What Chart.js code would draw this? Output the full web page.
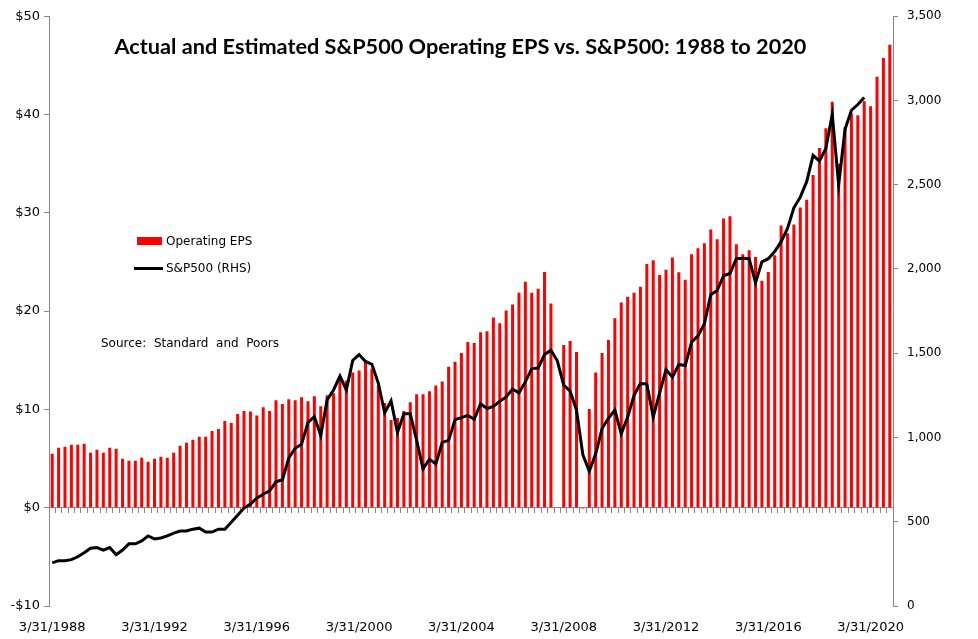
<!DOCTYPE html>
<html>
<head>
<meta charset="utf-8">
<script src="https://cdn.jsdelivr.net/npm/chart.js@4/dist/chart.umd.min.js"></script>
<style>
    body { margin: 0; background: #fff; }
    #wrap { position: relative; width: 978px; height: 639px; }
    #Chart { position: absolute; left: 0; top: 0; }
    .txt { position: absolute; font-family: "DejaVu Sans", sans-serif; font-size: 12px; color: #000; white-space: pre; line-height: 14px; }
    #title { position: absolute; left: 0; width: 921px; top: 32px; text-align: center; font-family: Lato, "Open Sans", sans-serif; font-weight: bold; font-size: 21.7px; line-height: 28px; color: #000; }
    .box { position: absolute; left: 137px; top: 237px; width: 25px; height: 8px; background: #ff0000; }
    .ln { position: absolute; left: 134px; top: 267px; width: 29px; height: 3px; background: #000; }
</style>
</head>
<body>
<div id="wrap">
    <canvas id="Chart" width="978" height="639"></canvas>
    <div id="title">Actual and Estimated S&amp;P500 Operating EPS vs. S&amp;P500: 1988 to 2020</div>
    <div class="box"></div>
    <div class="txt" style="left:166px; top:234px;">Operating EPS</div>
    <div class="ln"></div>
    <div class="txt" style="left:166px; top:261px;">S&amp;P500 (RHS)</div>
    <div class="txt" style="left:101px; top:336px;">Source:  Standard  and  Poors</div>
</div>
<script>
// quarter ends, 1988 - 2020
const years = [1988, 1989, 1990, 1991, 1992, 1993, 1994, 1995, 1996, 1997, 1998,
    1999, 2000, 2001, 2002, 2003, 2004, 2005, 2006, 2007, 2008, 2009, 2010, 2011,
    2012, 2013, 2014, 2015, 2016, 2017, 2018, 2019, 2020];
const quarterEnds = ['3/31/', '6/30/', '9/30/', '12/31/'];

// operating EPS per quarter ($), actual + estimates
const epsValues = [
    5.49, 6.09, 6.20, 6.40, 6.40, 6.50, 5.59, 5.89, 5.59, 6.09, 5.99, 4.98,
    4.78, 4.78, 5.08, 4.68, 4.98, 5.19, 5.08, 5.59, 6.30, 6.60, 6.90, 7.21,
    7.21, 7.81, 8.01, 8.82, 8.62, 9.53, 9.83, 9.78, 9.38, 10.23, 9.83, 10.94,
    10.54, 11.04, 10.94, 11.24, 10.84, 11.34, 10.33, 11.44, 11.64, 13.04, 12.94, 13.75,
    13.95, 14.85, 14.15, 12.40, 10.64, 8.93, 9.13, 9.83, 10.74, 11.54, 11.54, 11.84,
    12.44, 12.84, 14.35, 14.85, 15.75, 16.86, 16.76, 17.86, 17.96, 19.36, 18.76, 20.07,
    20.67, 21.87, 22.98, 21.87, 22.27, 23.98, 20.77, null, 16.56, 16.96, 15.85, -0.10,
    10.03, 13.75, 15.75, 17.06, 19.26, 20.87, 21.47, 21.87, 22.47, 24.78, 25.18, 23.68,
    24.20, 25.45, 23.95, 23.20, 25.79, 26.40, 26.91, 28.31, 27.30, 29.42, 29.64, 26.80,
    25.79, 26.19, 25.50, 23.09, 23.99, 25.68, 28.71, 27.91, 28.81, 30.54, 31.33, 33.85,
    36.58, 38.60, 41.30, 35.00, 38.70, 40.10, 39.93, 41.34, 40.84, 43.85, 45.75, 47.10
];

// S&P500 index at quarter end (right axis)
const spxValues = [
    256, 269, 269, 275, 292, 316, 343, 347, 332, 347, 304, 332,
    369, 369, 386, 416, 398, 404, 416, 433, 445, 445, 456, 462,
    439, 439, 456, 456, 497, 538, 581, 605, 640, 663, 683, 737,
    749, 878, 936, 960, 1089, 1124, 1012, 1223, 1282, 1364, 1282, 1457,
    1492, 1451, 1434, 1323, 1147, 1217, 1030, 1141, 1141, 983, 813, 872,
    843, 971, 983, 1106, 1118, 1131, 1108, 1200, 1172, 1184, 1215, 1241,
    1288, 1264, 1330, 1409, 1412, 1492, 1518, 1455, 1311, 1276, 1163, 897,
    800, 903, 1053, 1114, 1163, 1022, 1122, 1250, 1321, 1317, 1122, 1264,
    1403, 1358, 1433, 1427, 1566, 1603, 1675, 1847, 1872, 1960, 1973, 2061,
    2063, 2061, 1918, 2042, 2061, 2103, 2162, 2241, 2363, 2426, 2518, 2674,
    2640, 2716, 2917, 2499, 2829, 2942, 2976, 3018, null, null, null, null
];

const epsTicks = [-10, 0, 10, 20, 30, 40, 50];
const spxTicks = [0, 500, 1000, 1500, 2000, 2500, 3000, 3500];
const labelEvery = 16;

function buildLabels() {
    let labels = [];
    for (let i = 0; i < years.length; i++) {
        for (let q = 0; q < quarterEnds.length; q++) {
            labels.push(quarterEnds[q] + years[i]);
        }
    }
    return labels;
}

function generateChart() {
    const labels = buildLabels();
    const axisGrey = '#868686';
    Chart.defaults.font.family = '"DejaVu Sans", sans-serif';
    Chart.defaults.font.size = 12;
    Chart.defaults.color = '#000';

    const ctx = document.getElementById('Chart').getContext('2d');
    new Chart(ctx, {
        type: 'bar',
        data: {
            labels: labels,
            datasets: [{
                type: 'line',
                label: 'S&P500 (RHS)',
                data: spxValues,
                xAxisID: 'x',
                yAxisID: 'y1',
                borderColor: '#000',
                borderWidth: 3,
                pointRadius: 0,
                tension: 0,
                order: 0
            }, {
                label: 'Operating EPS',
                data: epsValues,
                xAxisID: 'x',
                yAxisID: 'y',
                backgroundColor: '#ff0000',
                barPercentage: 0.47,
                categoryPercentage: 1,
                order: 1
            }]
        },
        options: {
            responsive: false,
            animation: false,
            layout: { padding: { top: 8 } },
            plugins: {
                legend: { display: false },
                tooltip: { enabled: false }
            },
            scales: {
                // category axis sitting on $0
                x: {
                    type: 'category',
                    position: { y: 0 },
                    offset: true,
                    grid: { offset: true, drawOnChartArea: false, tickLength: 5, color: axisGrey },
                    border: { color: axisGrey },
                    ticks: { display: false }
                },
                // date labels at the bottom
                x2: {
                    type: 'category',
                    axis: 'x',
                    position: 'bottom',
                    labels: labels,
                    offset: true,
                    grid: { display: false, drawTicks: false },
                    border: { display: false },
                    ticks: {
                        autoSkip: false,
                        maxRotation: 0,
                        padding: 14,
                        font: { size: 13 },
                        callback: function (val, i) {
                            return i % labelEvery === 0 ? labels[i] : null;
                        }
                    },
                    afterFit: function (scale) { scale.height = 33; }
                },
                y: {
                    position: 'left',
                    min: epsTicks[0],
                    max: epsTicks[epsTicks.length - 1],
                    afterBuildTicks: function (scale) {
                        scale.ticks = epsTicks.map(v => ({ value: v }));
                    },
                    grid: { drawOnChartArea: false, tickLength: 5, color: axisGrey },
                    border: { color: axisGrey },
                    ticks: {
                        padding: 4,
                        font: { size: 13 },
                        callback: function (v) { return (v < 0 ? '-$' : '$') + Math.abs(v); }
                    },
                    afterFit: function (scale) { scale.width = 49; }
                },
                y1: {
                    position: 'right',
                    min: spxTicks[0],
                    max: spxTicks[spxTicks.length - 1],
                    afterBuildTicks: function (scale) {
                        scale.ticks = spxTicks.map(v => ({ value: v }));
                    },
                    grid: { drawOnChartArea: false, tickLength: 5, color: axisGrey },
                    border: { color: axisGrey },
                    ticks: {
                        padding: 9,
                        callback: function (v) { return v.toLocaleString('en-US'); }
                    },
                    afterFit: function (scale) { scale.width = 85; }
                }
            }
        }
    });
}

generateChart();
</script>
</body>
</html>
